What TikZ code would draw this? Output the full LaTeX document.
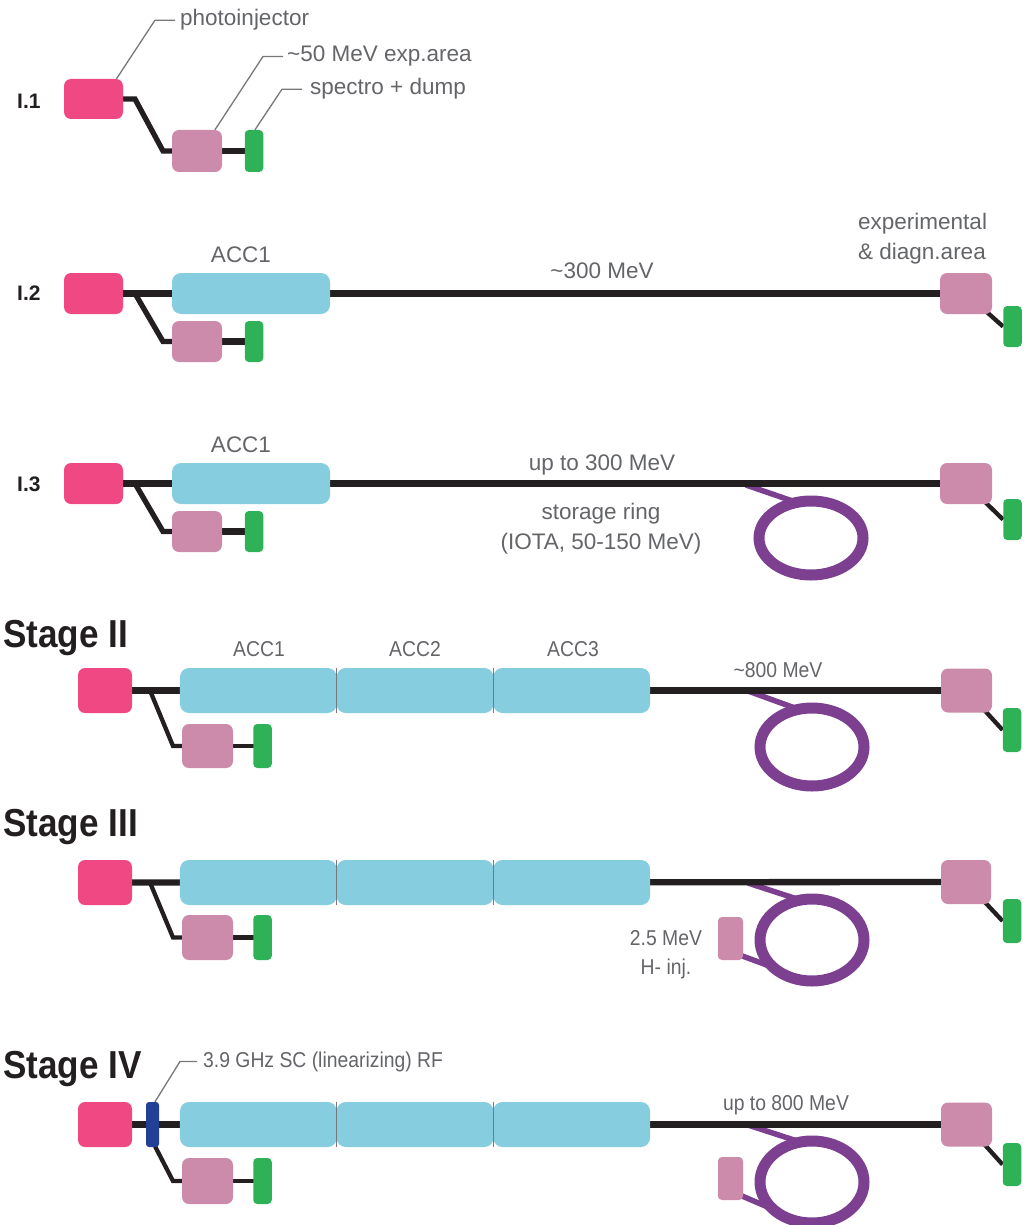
\documentclass[tikz,border=0pt]{standalone}
\usepackage{fontspec}
\setmainfont{Liberation Sans}
\newfontfamily\condfont[FakeStretch=0.9]{Liberation Sans}
\usetikzlibrary{backgrounds}

\definecolor{injpink}{RGB}{239,72,131}
\definecolor{expmauve}{RGB}{205,139,172}
\definecolor{dumpgreen}{RGB}{47,178,87}
\definecolor{accblue}{RGB}{135,205,224}
\definecolor{ringpurple}{RGB}{125,63,143}
\definecolor{rfblue}{RGB}{33,64,150}
\definecolor{beamblack}{RGB}{35,31,32}
\definecolor{labelgray}{RGB}{100,101,105}
\definecolor{leadergray}{RGB}{120,120,122}

\tikzset{
  box/.style={draw=none, inner sep=0pt, rounded corners=7pt},
  inj/.style={box, fill=injpink},
  expa/.style={box, fill=expmauve},
  dumpbox/.style={box, fill=dumpgreen, rounded corners=4pt, minimum width=18.5pt},
  accbox/.style={box, fill=accblue, rounded corners=9pt},
  rfbox/.style={box, fill=rfblue, rounded corners=3pt},
  hinj/.style={box, fill=expmauve, rounded corners=4pt},
  beam/.style={draw=beamblack, line width=6.3pt},
  branch/.style={draw=beamblack, line width=5.3pt, line join=miter},
  thinbranch/.style={draw=beamblack, line width=4.3pt, line join=miter},
  ringline/.style={draw=ringpurple, line width=11pt},
  feed/.style={draw=ringpurple, line width=5.5pt},
  leader/.style={draw=leadergray, line width=1.3pt},
  divider/.style={draw=leadergray, line width=0.8pt},
  lbl/.style={inner sep=0pt, text=labelgray, font=\fontsize{22.5}{27}\selectfont},
  slbl/.style={inner sep=0pt, text=labelgray, font=\condfont\fontsize{21.5}{25}\selectfont},
  rowlbl/.style={inner sep=0pt, text=beamblack, font=\bfseries\fontsize{21}{25}\selectfont},
  stagelbl/.style={inner sep=0pt, text=beamblack, font=\condfont\bfseries\fontsize{39}{44}\selectfont},
}

\begin{document}
\begin{tikzpicture}[x=1pt,y=-1pt]
\useasboundingbox (0,0) rectangle (1034,1225);
\clip (0,0) rectangle (1034,1225);

% ---------------- I.1 ----------------
\node[rowlbl, anchor=west] (l1) at (17,101.5) {I.1};
\node[inj, minimum width=59pt, minimum height=40pt] (p1) at (93.5,99) {};
\node[expa, minimum width=50pt, minimum height=42pt] (m1) at (197,151) {};
\node[dumpbox, minimum height=42pt] (g1) at (254,151) {};
\node[lbl, anchor=base west] (tphoto) at (180,26) {photoinjector};
\node[lbl, anchor=base west] (texp) at (287,62) {\textasciitilde 50 MeV exp.area};
\node[lbl, anchor=base west] (tspec) at (310,95) {spectro + dump};
\coordinate (k1) at (135,99);
\coordinate (j1) at (163,151);

% ---------------- I.2 ----------------
\node[rowlbl, anchor=west] (l2) at (17,293) {I.2};
\node[inj, minimum width=59pt, minimum height=41pt] (p2) at (93.5,293.5) {};
\node[accbox, minimum width=158pt, minimum height=41pt] (a2) at (251,293.5) {};
\node[expa, minimum width=50pt, minimum height=41pt] (m2) at (197,341.5) {};
\node[dumpbox, minimum height=41pt] (g2) at (254,341.5) {};
\node[expa, minimum width=52pt, minimum height=41pt] (e2) at (966,293.5) {};
\node[dumpbox, minimum height=41pt] (d2) at (1012.5,326.5) {};
\node[lbl, anchor=base] (acc2) at (241,262) {ACC1};
\node[lbl, anchor=base] (en2) at (602,278) {\textasciitilde 300 MeV};
\node[lbl, anchor=base west] (expt) at (858,229) {experimental};
\node[lbl, anchor=base west] (diag) at (858,259) {\& diagn.area};
\coordinate (k2) at (135,293.5);
\coordinate (j2) at (163,341.5);

% ---------------- I.3 ----------------
\node[rowlbl, anchor=west] (l3) at (17,484.5) {I.3};
\node[inj, minimum width=59pt, minimum height=41pt] (p3) at (93.5,483.5) {};
\node[accbox, minimum width=158pt, minimum height=41pt] (a3) at (251,483.5) {};
\node[expa, minimum width=50pt, minimum height=41pt] (m3) at (197,531.5) {};
\node[dumpbox, minimum height=41pt] (g3) at (254,531.5) {};
\node[expa, minimum width=52pt, minimum height=41pt] (e3) at (966,483.5) {};
\node[dumpbox, minimum height=41pt] (d3) at (1012.5,519.5) {};
\node[lbl, anchor=base] (acc3) at (241,452) {ACC1};
\node[lbl, anchor=base] (en3) at (602,470) {up to 300 MeV};
\node[lbl, anchor=base] (sr3) at (601,519) {storage ring};
\node[lbl, anchor=base] (iota3) at (601,549) {(IOTA, 50-150 MeV)};
\coordinate (k3) at (135,483.5);
\coordinate (j3) at (163,531.5);
\coordinate (rc3) at (811,538);
\coordinate (f3) at (746,485);
\path (rc3) ++(106:52pt and 37pt) coordinate (rt3);

% ---------------- Stage II ----------------
\node[stagelbl, anchor=base west] (s2) at (3,647) {Stage II};
\node[inj, minimum width=54pt, minimum height=45pt] (p4) at (105,690.5) {};
\foreach \i/\cx in {1/258.33,2/415,3/571.67}
  \node[accbox, minimum width=156.67pt, minimum height=45pt] (c4\i) at (\cx,690.5) {};
\node[expa, minimum width=51pt, minimum height=44pt] (m4) at (207.5,746) {};
\node[dumpbox, minimum height=44pt] (g4) at (262.5,746) {};
\node[expa, minimum width=51pt, minimum height=44pt] (e4) at (966.5,690.5) {};
\node[dumpbox, minimum height=44pt] (d4) at (1012,730) {};
\node[slbl, anchor=base] (acc41) at (259,656) {ACC1};
\node[slbl, anchor=base] (acc42) at (415,656) {ACC2};
\node[slbl, anchor=base] (acc43) at (573,656) {ACC3};
\node[slbl, anchor=base] (en4) at (778,677) {\textasciitilde 800 MeV};
\coordinate (k4) at (150,690.5);
\coordinate (j4) at (173,746);
\coordinate (rc4) at (812,747);
\coordinate (f4) at (748,691);
\path (rc4) ++(105:52pt and 39pt) coordinate (rt4);

% ---------------- Stage III ----------------
\node[stagelbl, anchor=base west] (s3) at (3,836) {Stage III};
\node[inj, minimum width=54pt, minimum height=45pt] (p5) at (105,882.5) {};
\foreach \i/\cx in {1/258.33,2/415,3/571.67}
  \node[accbox, minimum width=156.67pt, minimum height=45pt] (c5\i) at (\cx,882.5) {};
\node[expa, minimum width=51pt, minimum height=45pt] (m5) at (207.5,937.5) {};
\node[dumpbox, minimum height=45pt] (g5) at (262.5,937.5) {};
\node[expa, minimum width=50pt, minimum height=44pt] (e5) at (966,882) {};
\node[dumpbox, minimum height=44pt] (d5) at (1012,921) {};
\node[hinj, minimum width=25pt, minimum height=43pt] (i5) at (730.5,938.5) {};
\node[slbl, anchor=base] (hv5) at (666,945) {2.5 MeV};
\node[slbl, anchor=base] (hn5) at (666,974) {H- inj.};
\coordinate (k5) at (150,882.5);
\coordinate (j5) at (173,937.5);
\coordinate (rc5) at (812,940);
\coordinate (f5) at (748,883);
\path (rc5) ++(103:52pt and 41pt) coordinate (rt5);
\path (rc5) ++(222:52pt and 41pt) coordinate (rb5);

% ---------------- Stage IV ----------------
\node[stagelbl, anchor=base west] (s6) at (3,1078) {Stage IV};
\node[inj, minimum width=54pt, minimum height=45pt] (p6) at (105,1124.5) {};
\node[rfbox, minimum width=13pt, minimum height=45pt] (r6) at (152.5,1124.5) {};
\foreach \i/\cx in {1/258.33,2/415,3/571.67}
  \node[accbox, minimum width=156.67pt, minimum height=45pt] (c6\i) at (\cx,1124.5) {};
\node[expa, minimum width=51pt, minimum height=46pt] (m6) at (207.5,1181) {};
\node[dumpbox, minimum height=46pt] (g6) at (262.5,1181) {};
\node[expa, minimum width=51pt, minimum height=44pt] (e6) at (966.5,1124.5) {};
\node[dumpbox, minimum height=43pt] (d6) at (1012,1164.5) {};
\node[hinj, minimum width=25pt, minimum height=43pt] (i6) at (730.5,1178.5) {};
\node[slbl, anchor=base west] (rft) at (203,1067) {3.9 GHz SC (linearizing) RF};
\node[slbl, anchor=base] (en6) at (786,1110) {up to 800 MeV};
\coordinate (j6) at (173,1181);
\coordinate (rc6) at (812,1182);
\coordinate (f6) at (748,1125);
\path (rc6) ++(103:52pt and 41pt) coordinate (rt6);
\path (rc6) ++(222:52pt and 41pt) coordinate (rb6);

% ---------------- lines behind the boxes ----------------
\begin{pgfonlayer}{background}
  \fill[white] (0,0) rectangle (1034,1225);
  % ring feeds and rings
  \draw[feed] (f3) -- (rt3);
  \draw[feed] (f4) -- (rt4);
  \draw[feed] (f5) -- (rt5);
  \draw[feed] (f6) -- (rt6);
  \draw[feed] ([xshift=-3pt,yshift=5pt]i5.south east) -- (rb5);
  \draw[feed] ([xshift=-3pt,yshift=5pt]i6.south east) -- (rb6);
  \draw[ringline] (rc3) ellipse [x radius=52pt, y radius=37pt];
  \draw[ringline] (rc4) ellipse [x radius=52pt, y radius=39pt];
  \draw[ringline] (rc5) ellipse [x radius=52pt, y radius=41pt];
  \draw[ringline] (rc6) ellipse [x radius=52pt, y radius=41pt];
  % I.1
  \draw[branch] (p1.center) -- (k1) -- (j1) -- (m1.center);
  \draw[beam] (m1.center) -- (g1.center);
  % I.2
  \draw[beam] (p2.center) -- (a2.center) -- (e2.center);
  \draw[branch] (k2) -- (j2) -- (m2.center);
  \draw[beam] (m2.center) -- (g2.center);
  \draw[thinbranch] (e2.center) -- (d2.west);
  % I.3
  \draw[beam] (p3.center) -- (a3.center) -- (e3.center);
  \draw[branch] (k3) -- (j3) -- (m3.center);
  \draw[beam] (m3.center) -- (g3.center);
  \draw[thinbranch] (e3.center) -- (d3.west);
  % Stage II
  \draw[beam] (p4.center) -- (c41.center) -- (e4.center);
  \draw[thinbranch] (k4) -- (j4) -- (m4.center);
  \draw[thinbranch] (m4.center) -- (g4.center);
  \draw[thinbranch] (e4.center) -- (d4.west);
  % Stage III
  \draw[beam] (p5.center) -- (c51.center) -- (e5.center);
  \draw[thinbranch] (k5) -- (j5) -- (m5.center);
  \draw[thinbranch] (m5.center) -- (g5.center);
  \draw[thinbranch] (e5.center) -- (d5.west);
  % Stage IV
  \draw[beam] (p6.center) -- (r6.center) -- (c61.center) -- (e6.center);
  \draw[thinbranch] (r6.center) -- ([xshift=3pt]r6.south) -- (j6) -- (m6.center);
  \draw[thinbranch] (m6.center) -- (g6.center);
  \draw[thinbranch] (e6.center) -- (d6.west);
\end{pgfonlayer}

% joints between the accelerator modules
\foreach \r in {4,5,6}{
  \draw[divider] (c\r1.north east) -- (c\r1.south east);
  \draw[divider] (c\r2.north east) -- (c\r2.south east);
}

% leader lines to the labels
\draw[leader] ([xshift=23pt]p1.north) -- (tphoto.west -| 155,0) -- ([xshift=-5pt]tphoto.west);
\draw[leader] ([xshift=18pt]m1.north) -- (texp.west -| 263,0) -- ([xshift=-4pt]texp.west);
\draw[leader] ([xshift=1pt]g1.north) -- (tspec.west -| 282,0) -- ([xshift=-8pt]tspec.west);
\draw[leader] ([xshift=2.5pt]r6.north) -- (rft.west -| 180,0) -- ([xshift=-6pt]rft.west);
\end{tikzpicture}
\end{document}
